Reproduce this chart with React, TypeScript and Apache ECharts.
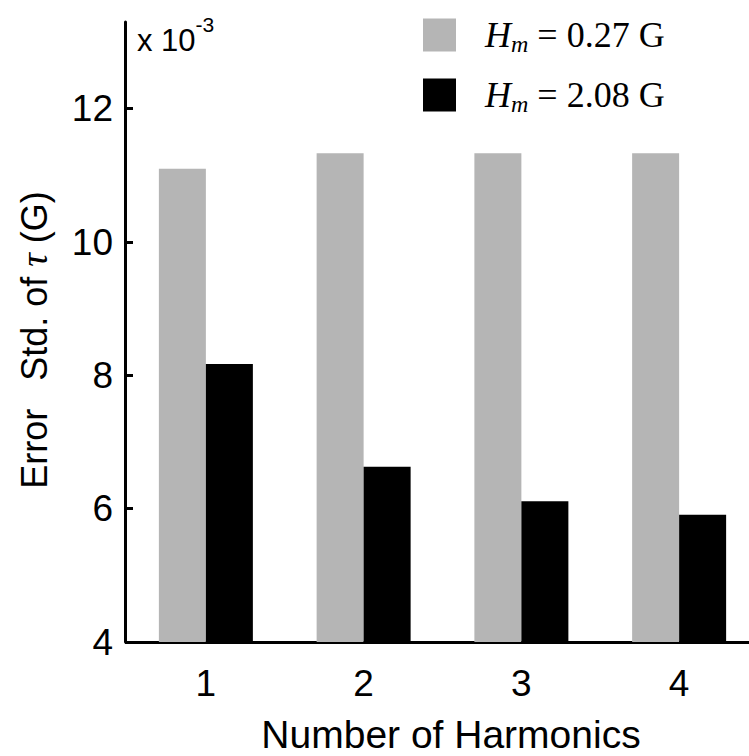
import React, { useEffect, useRef } from "react";
import * as echarts from "echarts";

const categories = ["1", "2", "3", "4"];
const lowFieldValues = [11.1, 11.33, 11.33, 11.33];
const highFieldValues = [8.17, 6.63, 6.11, 5.91];
const yTicks = [4, 6, 8, 10, 12];
const fieldStrengths = ["0.27", "2.08"];
const seriesNames = ["Hm = 0.27 G", "Hm = 2.08 G"];

const SANS = "'Liberation Sans', Arial, Helvetica, sans-serif";
const SERIF = "'Liberation Serif', 'Times New Roman', Times, serif";

export default function App() {
  const ref = useRef<HTMLDivElement>(null);
  useEffect(() => {
    if (!ref.current) return;
    const chart = echarts.init(ref.current, null, { renderer: "svg" });
    const option: any = {
      animation: false,
      backgroundColor: "#fff",
      grid: { left: 127, right: 12, top: 22, bottom: 114, containLabel: false },
      legend: {
        orient: "vertical",
        left: 418,
        top: 12,
        itemWidth: 33,
        itemHeight: 33,
        itemGap: 21,
        icon: "rect",
        data: seriesNames,
        formatter: (name: string) => {
          const i = seriesNames.indexOf(name);
          return `{h|H}{m|m}{t| = ${fieldStrengths[i]} G}`;
        },
        textStyle: {
          color: "#000",
          rich: {
            h: { fontFamily: SERIF, fontStyle: "italic", fontSize: 36, color: "#000", padding: [0, 0, 0, 24] },
            m: { fontFamily: SERIF, fontStyle: "italic", fontSize: 24, color: "#000", padding: [18, 0, 0, 0] },
            t: { fontFamily: SERIF, fontSize: 36, color: "#000" },
          },
        },
      },
      xAxis: {
        type: "category",
        data: categories,
        axisLine: { lineStyle: { color: "#000", width: 3 } },
        axisTick: { show: false },
        axisLabel: { fontSize: 37, color: "#000", fontFamily: SANS, margin: 23 },
        splitLine: { show: false },
      },
      yAxis: {
        type: "value",
        min: 4,
        max: 13.3,
        interval: 2,
        offset: 2,
        axisLine: { show: true, lineStyle: { color: "#000", width: 3 } },
        axisTick: {
          show: true,
          inside: true,
          length: 8,
          lineStyle: { color: "#000", width: 3 },
          customValues: yTicks,
        },
        axisLabel: {
          fontSize: 37,
          color: "#000",
          fontFamily: SANS,
          margin: 12,
          customValues: yTicks,
          formatter: (v: number) => (yTicks.indexOf(v) >= 0 ? String(v) : ""),
        },
        splitLine: { show: false },
      },
      series: [
        {
          type: "bar",
          name: seriesNames[0],
          data: lowFieldValues,
          barWidth: 47,
          barGap: "0%",
          itemStyle: { color: "#b5b5b5" },
        },
        {
          type: "bar",
          name: seriesNames[1],
          data: highFieldValues,
          barWidth: 47,
          barGap: "0%",
          itemStyle: { color: "#000" },
        },
      ],
      graphic: [
        {
          type: "text",
          x: 137,
          y: 40,
          style: {
            text: "{a|x 10}{b|-3}",
            textVerticalAlign: "middle",
            rich: {
              a: { fontFamily: SANS, fontSize: 31, fill: "#000", color: "#000" },
              b: { fontFamily: SANS, fontSize: 21, fill: "#000", color: "#000", padding: [0, 0, 32, 0] },
            },
          },
        },
        {
          type: "text",
          x: 34,
          y: 340,
          rotation: Math.PI / 2,
          style: {
            text: "{a|Error  }{b|Std. of }{t|τ}{a| (G)}",
            textAlign: "center",
            textVerticalAlign: "middle",
            rich: {
              a: { fontFamily: SANS, fontSize: 36, fill: "#000", color: "#000" },
              b: { fontFamily: SANS, fontSize: 36, fill: "#000", color: "#000", padding: [0, 0, 0, 8] },
              t: { fontFamily: SERIF, fontStyle: "italic", fontSize: 38, fill: "#000", color: "#000" },
            },
          },
        },
        {
          type: "text",
          x: 451,
          y: 734,
          style: {
            text: "Number of Harmonics",
            fontFamily: SANS,
            fontSize: 39,
            fill: "#000",
            textAlign: "center",
            textVerticalAlign: "middle",
          },
        },
      ],
    };
    chart.setOption(option);
    return () => chart.dispose();
  }, []);
  return (
    <div
      ref={ref}
      style={{ position: "fixed", left: 0, top: 0, width: 770, height: 756, background: "#fff" }}
    />
  );
}
